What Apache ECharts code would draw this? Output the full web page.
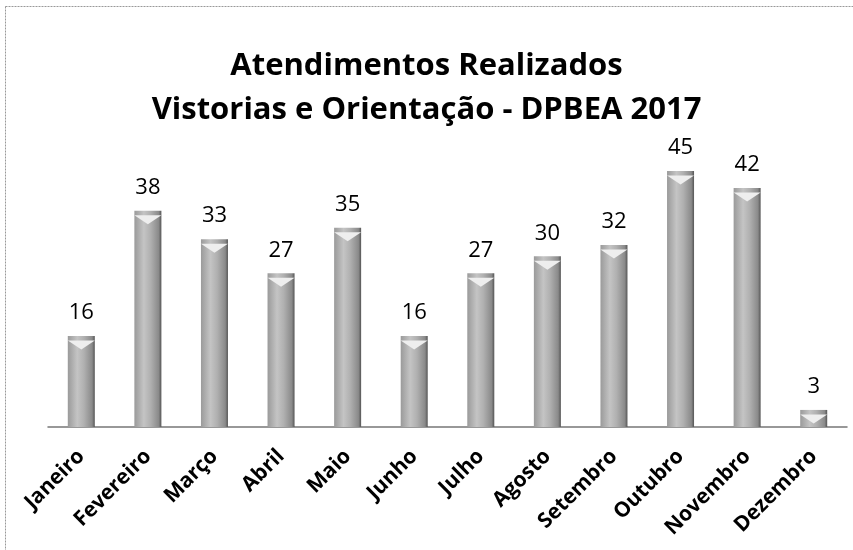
<!DOCTYPE html>
<html><head><meta charset="utf-8">
<script src="https://cdn.jsdelivr.net/npm/echarts@6/dist/echarts.min.js"></script>
<style>html,body{margin:0;padding:0;background:#fff}#c{width:853px;height:550px}</style>
</head><body><div id="c"></div>
<script>
const categories = ['Janeiro','Fevereiro','Março','Abril','Maio','Junho','Julho','Agosto','Setembro','Outubro','Novembro','Dezembro'];
const values = [16,38,33,27,35,16,27,30,32,45,42,3];
const titleLines = ['Atendimentos Realizados','Vistorias e Orientação - DPBEA 2017'];

const chart = echarts.init(document.getElementById('c'), null, {renderer:'canvas'});
const barColor = new echarts.graphic.LinearGradient(0,0,1,0,[
  {offset:0,color:'#9a9a9a'},{offset:0.35,color:'#c4c4c4'},{offset:0.6,color:'#b0b0b0'},{offset:0.9,color:'#8a8a8a'},{offset:1,color:'#555'}
]);
chart.setOption({
  animation:false,
  backgroundColor:'#fff',
  title:{
    text:titleLines.join('\n'), left:'center', top:39,
    textStyle:{fontFamily:'Open Sans',fontWeight:'bold',fontSize:31,color:'#000',lineHeight:44}
  },
  graphic:[{type:'rect',shape:{x:5.5,y:6.5,width:860,height:560},style:{fill:'none',stroke:'#999',lineWidth:1,lineDash:[2,1]}}],
  grid:{left:48,right:6,top:142.5,bottom:123},
  xAxis:{type:'category',data:categories,
    axisLine:{lineStyle:{color:'#777',width:1.5}},axisTick:{show:false},
    axisLabel:{rotate:45,interval:0,margin:26,fontFamily:'Open Sans',fontWeight:'bold',fontSize:21,color:'#000'}},
  yAxis:{type:'value',min:0,max:50,show:false,splitLine:{show:false}},
  series:[{type:'bar',data:values,barWidth:27,
    itemStyle:{color:barColor},
    label:{show:true,position:'top',distance:12,fontFamily:'Open Sans',fontSize:22,color:'#000'}},
    {type:'pictorialBar',data:values,symbol:'path://M0,0 L10,0 L5,6 Z',symbolSize:[27,9],symbolPosition:'end',symbolOffset:[0,'50%'],
     itemStyle:{color:'#eeeeee'},z:3,silent:true}
  ]
});
</script></body></html>
